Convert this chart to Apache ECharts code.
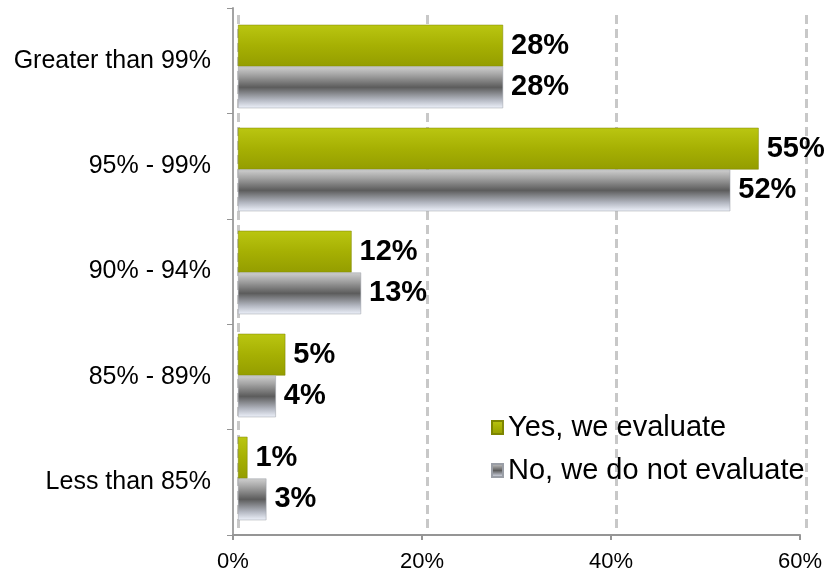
<!DOCTYPE html>
<html>
<head>
<meta charset="utf-8">
<script src="https://cdn.jsdelivr.net/npm/echarts@6/dist/echarts.min.js"></script>
<style>
  html, body { margin: 0; padding: 0; background: #ffffff; }
  #chart { width: 835px; height: 579px; }
</style>
</head>
<body>
<div id="chart"></div>
<script>
// Accuracy bands and the share of respondents in each
const categories = ['Greater than 99%', '95% - 99%', '90% - 94%', '85% - 89%', 'Less than 85%'];
const yesEvaluate = [28, 55, 12, 5, 1];
const noEvaluate = [28, 52, 13, 4, 3];
const seriesNames = ['Yes, we evaluate', 'No, we do not evaluate'];
const xTicks = [0, 20, 40, 60];

const FONT = '"Liberation Sans", Arial, sans-serif';
const X_MIN = xTicks[0];
const X_MAX = xTicks[xTicks.length - 1];
const X_STEP = xTicks[1] - xTicks[0];

// Olive bar with a soft top-to-bottom shading
const yesFill = new echarts.graphic.LinearGradient(0, 0, 0, 1, [
  { offset: 0, color: '#bac611' },
  { offset: 0.5, color: '#a6b003' },
  { offset: 1, color: '#949d00' }
]);
// Grey cylinder look: light rim, dark core, pale bluish underside
const noFill = new echarts.graphic.LinearGradient(0, 0, 0, 1, [
  { offset: 0, color: '#cfcfcf' },
  { offset: 0.2, color: '#a4a4a4' },
  { offset: 0.5, color: '#5c5c5c' },
  { offset: 0.8, color: '#b4b8c2' },
  { offset: 1, color: '#eef2fb' }
]);

const label = {
  show: true,
  position: 'right',
  distance: 8,
  formatter: p => p.value + '%',
  fontFamily: FONT,
  fontWeight: 'bold',
  fontSize: 29,
  color: '#000000'
};

const chart = echarts.init(document.getElementById('chart'), null, { renderer: 'canvas' });
chart.setOption({
  animation: false,
  backgroundColor: '#ffffff',
  // grid 0: the front axes with their labels; grid 1: the bars on the back wall
  grid: [
    { left: 233, right: 35, top: 8, bottom: 44 },
    { left: 238, right: 29, top: 15, bottom: 49 }
  ],
  legend: {
    orient: 'vertical',
    left: 486,
    top: 408,
    itemWidth: 11,
    itemHeight: 13,
    itemGap: 14,
    icon: 'rect',
    data: seriesNames,
    textStyle: { fontFamily: FONT, fontSize: 29, color: '#000000' }
  },
  xAxis: [
    {
      gridIndex: 0,
      type: 'value',
      min: X_MIN,
      max: X_MAX,
      interval: X_STEP,
      axisLine: { show: true, lineStyle: { color: '#959595', width: 2 } },
      axisTick: { show: true, length: 5, lineStyle: { color: '#959595', width: 2 } },
      axisLabel: {
        formatter: v => v + '%',
        fontFamily: FONT,
        fontSize: 22,
        color: '#000000',
        margin: 16
      },
      splitLine: { show: false }
    },
    {
      gridIndex: 1,
      type: 'value',
      min: X_MIN,
      max: X_MAX,
      interval: X_STEP,
      axisLine: { show: false },
      axisTick: { show: false },
      axisLabel: { show: false },
      splitLine: {
        show: true,
        lineStyle: { color: '#c8c8c8', width: 3, type: [9, 5] }
      }
    }
  ],
  yAxis: [
    {
      gridIndex: 0,
      type: 'category',
      inverse: true,
      data: categories,
      axisLine: { show: true, lineStyle: { color: '#a3a3a3', width: 2 } },
      axisTick: { show: true, length: 6, lineStyle: { color: '#959595', width: 1 } },
      axisLabel: {
        fontFamily: FONT,
        fontSize: 25,
        color: '#000000',
        margin: 22
      }
    },
    {
      gridIndex: 1,
      type: 'category',
      inverse: true,
      data: categories,
      show: false
    }
  ],
  series: [
    {
      name: seriesNames[0],
      type: 'bar',
      xAxisIndex: 1,
      yAxisIndex: 1,
      data: yesEvaluate,
      barGap: '0%',
      barCategoryGap: '19%',
      itemStyle: { color: yesFill, borderColor: '#7d8500', borderWidth: 0.5 },
      label: label
    },
    {
      name: seriesNames[1],
      type: 'bar',
      xAxisIndex: 1,
      yAxisIndex: 1,
      data: noEvaluate,
      itemStyle: { color: noFill, borderColor: '#9a9ea6', borderWidth: 0.5 },
      label: label
    }
  ]
});
</script>
</body>
</html>
